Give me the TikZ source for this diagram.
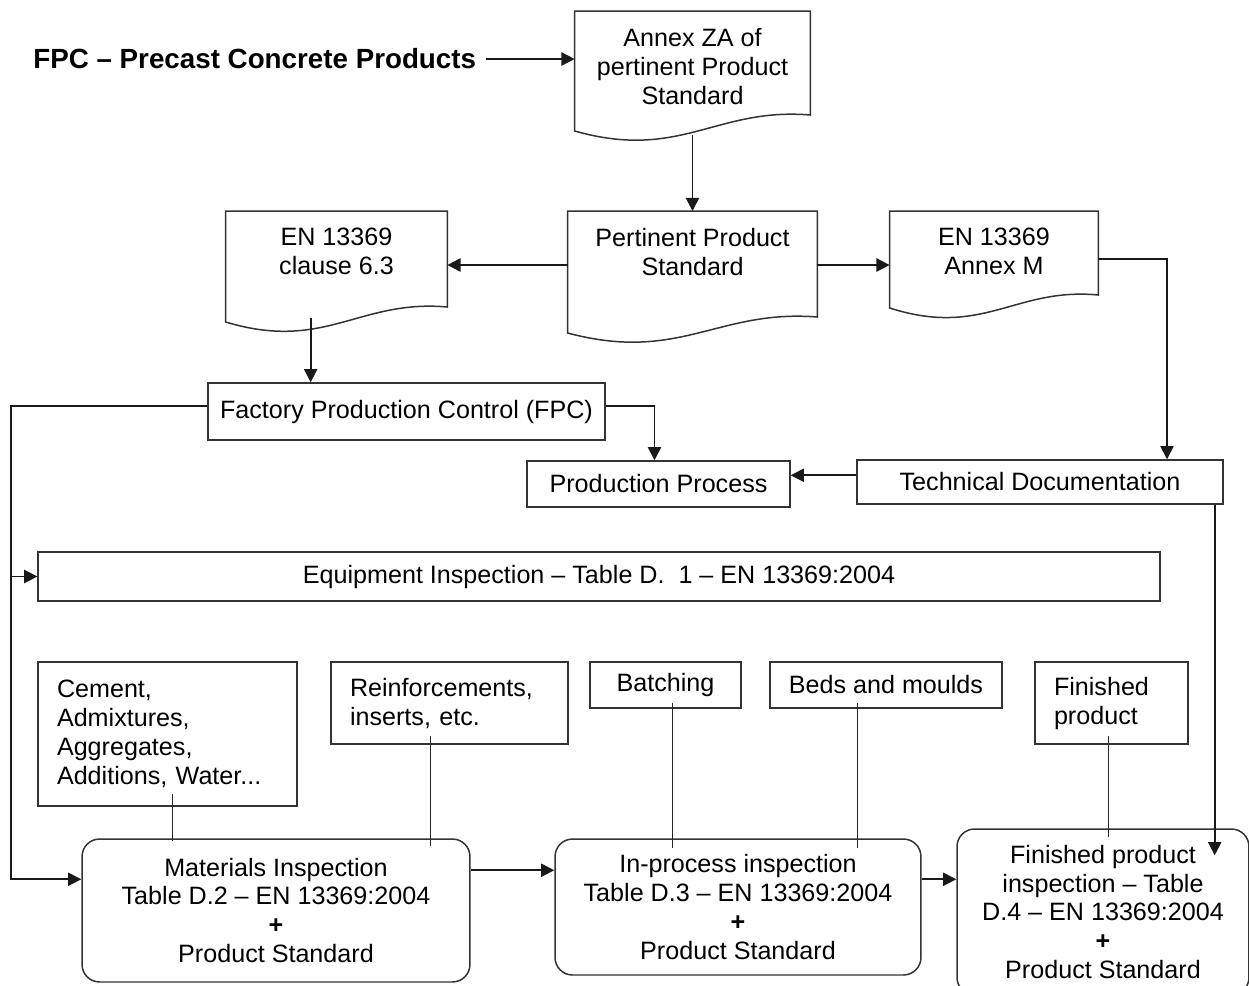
\documentclass[tikz,border=0pt]{standalone}
\usepackage{fontspec}
\setmainfont{Liberation Sans}
\usepackage{xcolor}
\usepackage{tikz}
\usetikzlibrary{shapes,arrows.meta,positioning,calc}

% document outline: node, width, height, rise of the right corner (px)
\newcommand{\docshape}[4]{%
  \draw[outline] (#1.north west) -- (#1.north east)
    -- ($(#1.north east)+(0,#3-#4)$)
    .. controls +({-0.4*#2},-8) and +({0.45*#2},30) .. ($(#1.north west)+(0,#3)$)
    -- cycle;}

\begin{document}
\begin{tikzpicture}[
    x=0.02cm,
    y=-0.02cm,
    font=\fontsize{14.3}{16.5}\selectfont,
    outline/.style={
        draw=black!80,
        line width=0.85pt
    },
    block/.style={
        rectangle,
        outline,
        inner sep=0pt,
        align=center
    },
    doc/.style={
        rectangle,
        anchor=north,
        inner xsep=0pt,
        inner ysep=0.33cm,
        align=center
    },
    source/.style={
        rectangle,
        outline,
        inner xsep=0.38cm,
        inner ysep=0pt,
        text width=#1,
        align=left
    },
    inspect/.style={
        rectangle,
        outline,
        rounded corners=10pt,
        inner sep=0pt,
        align=center
    },
    line/.style={
        draw=black!90, line width=0.95pt, -{Triangle[length=7.5pt,width=7.5pt]}
    },
    feed/.style={
        draw=black!85, line width=0.55pt
    }
]
    \useasboundingbox (0,0) rectangle (1249,985);
    \clip (0,0) rectangle (1249,985);

    % Nodes
    \node [anchor=west, inner sep=0pt, font=\fontsize{15.8}{18}\selectfont\bfseries] (title) at (33,59) {FPC – Precast Concrete Products};
    \node [doc, minimum width=4.70cm] (annexza) at (692.5,11) {Annex ZA of\\pertinent Product\\Standard};
    \node [doc, minimum width=4.98cm] (pert) at (692.5,211) {Pertinent Product\\Standard};
    \node [doc, minimum width=4.42cm] (clause) at (336.5,211) {EN 13369\\clause 6.3};
    \node [doc, minimum width=4.16cm] (annexm) at (994,211) {EN 13369\\Annex M};
    \docshape{annexza}{235}{120}{16}
    \docshape{pert}{249}{122}{16}
    \docshape{clause}{221}{111}{15}
    \docshape{annexm}{208}{97}{13}

    \node [block, minimum width=7.94cm, minimum height=1.14cm] (fpc) at (406.5,411.5) {Factory Production Control (FPC)};
    \node [block, minimum width=5.26cm, minimum height=0.92cm] (prod) at (658.5,484) {Production Process};
    \node [block, minimum width=7.32cm, minimum height=0.88cm] (tech) at (1040,482) {Technical Documentation};
    \node [block, minimum width=22.44cm, minimum height=0.98cm] (equip) at (599,576.5) {Equipment Inspection – Table D.\ \ 1 – EN 13369:2004};

    \node [source=4.42cm, minimum height=2.88cm] (cement) at (167.5,734) {Cement,\\Admixtures,\\Aggregates,\\Additions, Water...};
    \node [source=3.98cm, minimum height=1.64cm] (reinf) at (449.5,703) {Reinforcements,\\inserts, etc.};
    \node [block, minimum width=3.02cm, minimum height=0.92cm] (batch) at (665.5,685) {Batching};
    \node [block, minimum width=4.64cm, minimum height=0.92cm] (beds) at (886,685) {Beds and moulds};
    \node [source=2.30cm, minimum height=1.64cm] (finprod) at (1111.5,703) {Finished\\product};

    \node [inspect, minimum width=7.76cm, minimum height=2.86cm] (mat) at (276,910.5) {Materials Inspection\\Table D.2 – EN 13369:2004\\\textbf{+}\\Product Standard};
    \node [inspect, minimum width=7.32cm, minimum height=2.72cm] (inproc) at (738,907) {In-process inspection\\Table D.3 – EN 13369:2004\\\textbf{+}\\Product Standard};
    \node [inspect, minimum width=5.84cm, minimum height=3.32cm] (fpi) at (1103,912) {Finished product\\inspection – Table\\D.4 – EN 13369:2004\\\textbf{+}\\Product Standard};

    % Connector points
    \coordinate (bus) at (11,0);
    \coordinate (pertl) at ($(pert.north west)+(0,54)$);
    \coordinate (pertr) at ($(pert.north east)+(0,54)$);
    \coordinate (annexmout) at ($(annexm.north east)+(0,48)$);
    \coordinate (techin) at ($(tech.north)+(127,0)$);
    \coordinate (clauseout) at ($(clause.north west)+(85,107)$);
    \coordinate (fpcl) at ($(fpc.north west)+(0,24)$);
    \coordinate (fpcr) at ($(fpc.north east)+(0,24)$);
    \coordinate (techl) at ($(tech.north west)+(0,16)$);
    \coordinate (techout) at ($(tech.south east)+(-9,0)$);
    \coordinate (fpiin) at ($(fpi.north east)+(-35,27)$);
    \coordinate (matin) at ($(mat.north west)+(0,41)$);
    \coordinate (matout) at ($(mat.north east)+(0,32)$);
    \coordinate (inprocout) at ($(inproc.north east)+(0,41)$);

    % Edges
    \path [line] ($(title.east)+(10,0)$) -- (title.east -| annexza.west);
    \path [line] ($(annexza.north)+(0,124)$) -- (pert.north);
    \path [line] (pertl) -- (pertl -| clause.east);
    \path [line] (pertr) -- (pertr -| annexm.west);
    \path [line] (annexmout) -| (techin);
    \path [line] (clauseout) -- (clauseout |- fpc.north);
    \path [line] (fpcr) -| ($(prod.north)+(-4,0)$);
    \path [line] (techl) -- (techl -| prod.east);
    \path [line] (fpcl) -- (fpcl -| bus) |- (matin);
    \path [line] (bus |- equip.west) -- (equip.west);
    \path [line] (techout) -- (techout |- fpiin);
    \path [line] (matout) -- (matout -| inproc.west);
    \path [line] (inprocout) -- (inprocout -| fpi.west);

    % Feeds into the inspections
    \coordinate (cementfeed) at ($(cement.south)+(4.5,-13)$);
    \coordinate (reinffeed) at ($(reinf.south)+(-19.5,-9)$);
    \coordinate (batchfeed) at ($(batch.south)+(6.5,-6)$);
    \coordinate (bedsfeed) at ($(beds.south)+(-29,-6)$);
    \coordinate (finprodfeed) at ($(finprod.south)+(-3.5,-9)$);
    \path [feed] (cementfeed) -- ($(cementfeed |- mat.north)+(0,3)$);
    \path [feed] (reinffeed) -- ($(reinffeed |- mat.north)+(0,8)$);
    \path [feed] (batchfeed) -- ($(batchfeed |- inproc.north)+(0,10)$);
    \path [feed] (bedsfeed) -- ($(bedsfeed |- inproc.north)+(0,10)$);
    \path [feed] (finprodfeed) -- ($(finprodfeed |- fpi.north)+(0,9)$);

\end{tikzpicture}
\end{document}
